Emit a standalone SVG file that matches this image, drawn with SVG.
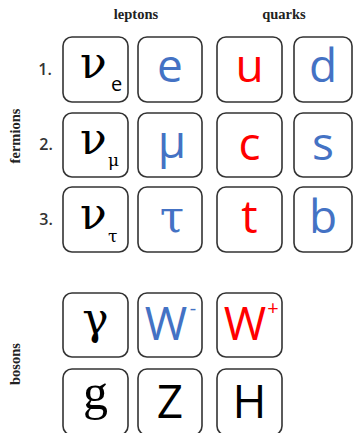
<svg xmlns="http://www.w3.org/2000/svg" width="354" height="433" viewBox="0 0 354 433">
<style>
.box{fill:#fff;stroke:#333;stroke-width:1.6}
.s{font-family:"Open Sans","Liberation Sans",sans-serif;font-size:46px;text-anchor:middle}
.nu{font-family:"DejaVu Serif","Liberation Serif",serif;font-size:44px}
.sub{font-family:"Open Sans","Liberation Sans",sans-serif;font-size:20px}
.subs{font-family:"DejaVu Serif","Liberation Serif",serif;font-size:17px}
.hd{font-family:"Liberation Serif",serif;font-size:14.5px;font-weight:bold;fill:#222;text-anchor:middle}
.num{font-family:"Open Sans","Liberation Sans",sans-serif;font-size:16px;font-weight:600;fill:#333;text-anchor:middle}
.b{fill:#4472C4}.r{fill:#FF0000}.k{fill:#000}
</style>
<rect width="354" height="433" fill="#fff"/>
<g id="labels">
<text class="hd" x="136" y="19">leptons</text>
<text class="hd" x="284" y="19">quarks</text>
<text class="hd" transform="translate(20,136) rotate(-90)">fermions</text>
<text class="hd" transform="translate(20,364) rotate(-90)">bosons</text>
<text class="num" x="45" y="75">1.</text>
<text class="num" x="46" y="150">2.</text>
<text class="num" x="46" y="225">3.</text>
</g>
<g id="nu_e"><rect class="box" x="63" y="37" width="65" height="65" rx="9"/><text class="nu k" x="80" y="78">ν</text><text class="sub k" x="111" y="91">e</text></g>
<g id="e"><rect class="box" x="138" y="37" width="64" height="65" rx="9"/><text class="s b" x="170" y="82">e</text></g>
<g id="u"><rect class="box" x="217" y="37" width="65" height="65" rx="9"/><text class="s r" x="249.5" y="82">u</text></g>
<g id="d"><rect class="box" x="294" y="37" width="58" height="65" rx="9"/><text class="s b" x="323" y="82">d</text></g>

<g id="nu_mu"><rect class="box" x="63" y="113" width="65" height="64" rx="9"/><text class="nu k" x="80" y="154">ν</text><text class="subs k" x="108" y="166">μ</text></g>
<g id="mu"><rect class="box" x="138" y="113" width="64" height="64" rx="9"/><text class="s b" x="172" y="158">μ</text></g>
<g id="c"><rect class="box" x="217" y="113" width="65" height="64" rx="9"/><text class="s r" x="249.5" y="160">c</text></g>
<g id="s"><rect class="box" x="294" y="113" width="58" height="64" rx="9"/><text class="s b" x="323" y="160">s</text></g>

<g id="nu_tau"><rect class="box" x="63" y="187" width="65" height="65" rx="9"/><text class="nu k" x="80" y="229">ν</text><text class="subs k" x="108" y="242">τ</text></g>
<g id="tau"><rect class="box" x="138" y="187" width="64" height="65" rx="9"/><text class="nu b" x="172" y="232" text-anchor="middle" font-size="46">τ</text></g>
<g id="t"><rect class="box" x="217" y="187" width="65" height="65" rx="9"/><text class="s r" x="249.5" y="233">t</text></g>
<g id="b"><rect class="box" x="294" y="187" width="58" height="65" rx="9"/><text class="s b" x="323" y="233">b</text></g>

<g id="gamma"><rect class="box" x="63" y="293" width="65" height="64" rx="9"/><text class="nu k" x="95.5" y="334" text-anchor="middle">γ</text></g>
<g id="w_minus"><rect class="box" x="138" y="293" width="64" height="64" rx="9"/><text class="s b" x="166" y="340">W</text><text class="sub b" x="193" y="315" text-anchor="middle">-</text></g>
<g id="w_plus"><rect class="box" x="217" y="293" width="65" height="64" rx="9"/><text class="s r" x="245" y="340">W</text><text class="sub r" x="273" y="315" text-anchor="middle">+</text></g>

<g id="g"><rect class="box" x="63" y="369" width="65" height="66" rx="9"/><text class="k" x="95.5" y="409" text-anchor="middle" font-family="Liberation Serif, serif" font-size="50">g</text></g>
<g id="Z"><rect class="box" x="138" y="369" width="64" height="66" rx="9"/><text class="s k" x="170" y="418">Z</text></g>
<g id="H"><rect class="box" x="217" y="369" width="65" height="66" rx="9"/><text class="s k" x="249.5" y="418">H</text></g>
<g id="connectors"/>
</svg>
